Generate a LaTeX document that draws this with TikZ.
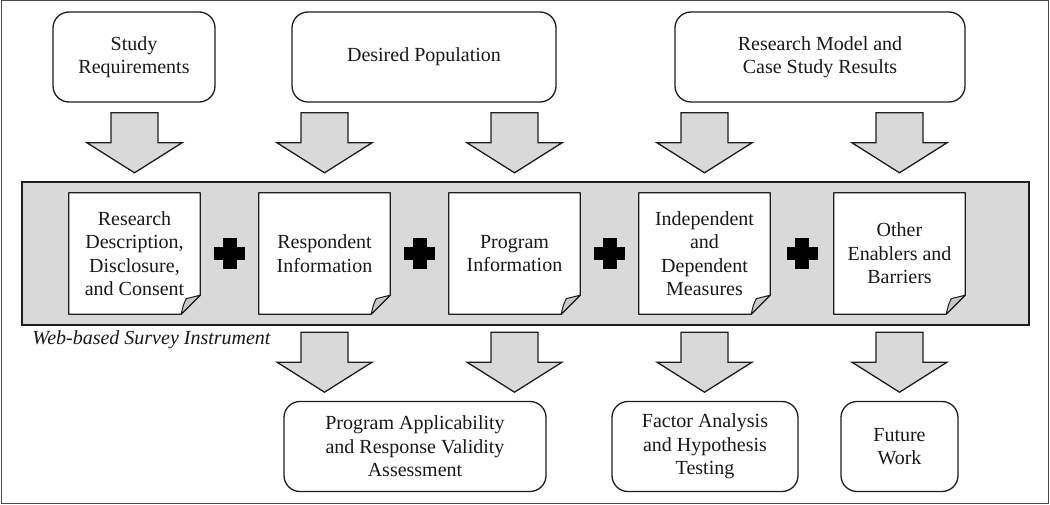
\documentclass[tikz,border=0pt]{standalone}
\usepackage{fontspec}
\setmainfont{LiberationSerif}[Extension=.ttf, UprightFont=*-Regular, ItalicFont=*-Italic, BoldFont=*-Bold, BoldItalicFont=*-BoldItalic]
\usetikzlibrary{calc}
\definecolor{bandgray}{RGB}{217,217,217}
\definecolor{flapgray}{RGB}{200,200,200}
\definecolor{linecol}{RGB}{30,30,30}

% white page with a curled bottom-right corner, drawn around a page node
\newcommand\pagefold[1]{%
  \fill[bandgray] (#1.south east) -- ($(#1.south east)+(0,-19)$) -- ($(#1.south east)+(-19,0)$) -- cycle;
  \draw[linecol, line width=1.3pt, line join=round]
    (#1.north west) -- (#1.north east) -- ($(#1.south east)+(0,-19)$)
    -- ($(#1.south east)+(-19,0)$) -- (#1.south west) -- cycle;
  \draw[linecol, line width=1pt, line join=round, fill=flapgray]
    ($(#1.south east)+(-19,0)$) .. controls ($(#1.south east)+(-17,-9)$) .. ($(#1.south east)+(-14,-15.5)$)
    -- ($(#1.south east)+(0,-19)$) -- cycle;
}
% solid black plus sign
\newcommand\plusat[1]{%
  \fill[black] ($(#1)+(-15.5,-6.5)$) rectangle ($(#1)+(15.5,6.5)$);
  \fill[black] ($(#1)+(-7,-15.5)$) rectangle ($(#1)+(7,15.5)$);
}

\begin{document}
\begin{tikzpicture}[x=1pt,y=-1pt,
  every node/.style={font=\fontsize{20}{23.5}\selectfont, align=center, inner sep=0pt, text=black!90},
  roundbox/.style={draw=linecol, line width=1.3pt, rounded corners=16pt, fill=white, minimum height=90pt},
  pagebox/.style={fill=white, minimum width=131pt, minimum height=121pt},
  surveyband/.style={draw=linecol, line width=1.5pt, fill=bandgray, minimum width=1007pt, minimum height=143pt},
  blockarrow/.style={draw=linecol, fill=bandgray, line width=1.3pt, line join=miter},
  downblock/.pic={\draw[blockarrow] (-23.5,-60) -- (23.5,-60) -- (23.5,-30) -- (47.5,-30)
                     -- (0,0) -- (-47.5,-30) -- (-23.5,-30) -- cycle;}]

\useasboundingbox (0,0) rectangle (1050,505);
\draw[black!70, line width=1pt] (1,1) rectangle (1048,503);

% inputs
\node[roundbox, minimum width=162pt] (r1) at (134,57) {Study\\Requirements};
\node[roundbox, minimum width=264pt] (r2) at (424,57) {Desired Population};
\node[roundbox, minimum width=290pt] (r3) at (820,57) {Research Model and\\Case Study Results};

% survey instrument
\node[surveyband] (band) at (525.5,253.5) {};
\node[font=\itshape\fontsize{20}{23.5}\selectfont, anchor=west] (lbl)
  at ($(band.south west)+(11,14)$) {Web-based Survey Instrument};

\node[pagebox] (d1) at (134.5,253.5) {Research\\Description,\\Disclosure,\\and Consent};
\node[pagebox] (d2) at (324.5,253.5) {Respondent\\Information};
\node[pagebox] (d3) at (514.5,253.5) {Program\\Information};
\node[pagebox] (d4) at (704.5,253.5) {Independent\\and\\Dependent\\Measures};
\node[pagebox] (d5) at (899.5,253.5) {Other\\Enablers and\\Barriers};
\foreach \d in {d1,d2,d3,d4,d5} {\pagefold{\d}}

\coordinate (p1) at ($(d1.east)!0.5!(d2.west)$);
\coordinate (p2) at ($(d2.east)!0.5!(d3.west)$);
\coordinate (p3) at ($(d3.east)!0.5!(d4.west)$);
\coordinate (p4) at ($(d4.east)!0.5!(d5.west)$);
\foreach \p in {p1,p2,p3,p4} {\plusat{\p}}

% outputs
\node[roundbox, minimum width=262pt] (b1) at (415,446.5) {Program Applicability\\and Response Validity\\Assessment};
\node[roundbox, minimum width=186pt] (b2) at (705,446.5) {Factor Analysis\\and Hypothesis\\Testing};
\node[roundbox, minimum width=117pt] (b3) at (899.5,446.5) {Future\\Work};

% block arrows into and out of the instrument
\foreach \d in {d1,d2,d3,d4,d5} {\pic at ($(\d.north)+(0,-20)$) {downblock};}
\foreach \d in {d2,d3,d4,d5} {\pic at ($(\d.south)+(0,78)$) {downblock};}

\end{tikzpicture}
\end{document}
